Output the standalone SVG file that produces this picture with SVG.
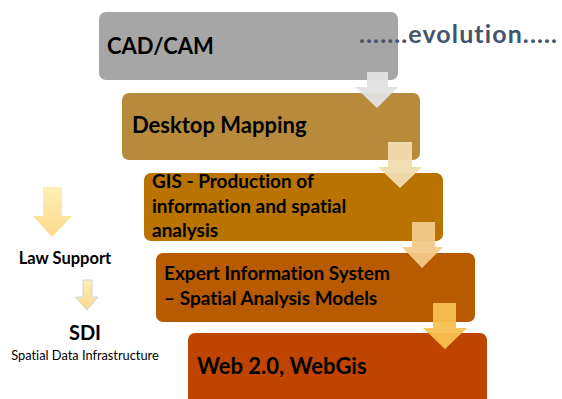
<svg xmlns="http://www.w3.org/2000/svg" width="562" height="399" viewBox="0 0 562 399">
<style>
text{font-variant-ligatures:none}
.t{font-family:Lato,"Open Sans","Liberation Sans",sans-serif;font-weight:bold;fill:#000}
.big{font-size:22px}
.mid{font-size:19px}
.evo{font-family:Lato,"Open Sans","Liberation Sans",sans-serif;font-weight:bold;font-size:25px;fill:#44546a}
.sub{font-family:Lato,"Open Sans","Liberation Sans",sans-serif;font-size:12.8px;fill:#000}
</style>
<defs>
<linearGradient id="ly" x1="0" y1="0" x2="0" y2="1">
<stop offset="0" stop-color="#fef0b8"/>
<stop offset="1" stop-color="#fdd98a"/>
</linearGradient>
</defs>
<rect width="562" height="399" fill="#fff"/>
<g id="cadcam">
<rect x="99" y="12" width="299" height="68" rx="7" fill="#a6a6a6"/>
<text class="t big" x="107" y="54">CAD/CAM</text>
</g>
<g id="evolution">
<text class="evo" x="359" y="43" textLength="198" lengthAdjust="spacing">.......evolution.....</text>
</g>
<g id="desktop">
<rect x="122" y="93" width="298" height="67" rx="7" fill="#b88b3c"/>
<text class="t big" x="132" y="133">Desktop Mapping</text>
</g>
<g id="gis">
<rect x="144" y="173" width="299" height="68" rx="7" fill="#b87300"/>
<text class="t mid" x="152" y="188">GIS - Production of</text>
<text class="t mid" x="152" y="213">information and spatial</text>
<text class="t mid" x="152" y="237">analysis</text>
</g>
<g id="expert">
<rect x="156" y="253" width="319" height="69" rx="7" fill="#b85a00"/>
<text class="t mid" x="164" y="280">Expert Information System</text>
<text class="t mid" x="164" y="305">– Spatial Analysis Models</text>
</g>
<g id="web">
<rect x="188" y="333" width="299" height="80" rx="7" fill="#bf4400"/>
<text class="t big" x="197" y="374">Web 2.0, WebGis</text>
</g>
<g id="law">
<text class="t" x="65" y="264" font-size="16.5" text-anchor="middle">Law Support</text>
</g>
<g id="sdi">
<text class="t" x="85" y="340" font-size="20" text-anchor="middle">SDI</text>
<text class="sub" x="85" y="360" text-anchor="middle">Spatial Data Infrastructure</text>
</g>
<g id="connectors">
<path d="M367,72 H388 V87 H398 L377,108 L355,87 H367 Z" fill="#e2e2e2" opacity="0.95"/>
<path d="M388,142 H412 V167 H422 L400,188 L378,167 H388 Z" fill="#f1ddb0" opacity="0.95"/>
<path d="M412,222 H435 V247 H443 L422,268 L402,247 H412 Z" fill="#f3c98a" opacity="0.95"/>
<path d="M433,303 H456 V328 H467 L445,349 L423,328 H433 Z" fill="#f8c050" opacity="0.95"/>
<path d="M43,187 H62 V216 H72 L52,237 L33,216 H43 Z" fill="url(#ly)"/>
<path d="M83,280 H92 V297 H98 L87,310 L75,297 H83 Z" fill="url(#ly)" stroke="#c8d6e8" stroke-width="1"/>
</g>
</svg>
